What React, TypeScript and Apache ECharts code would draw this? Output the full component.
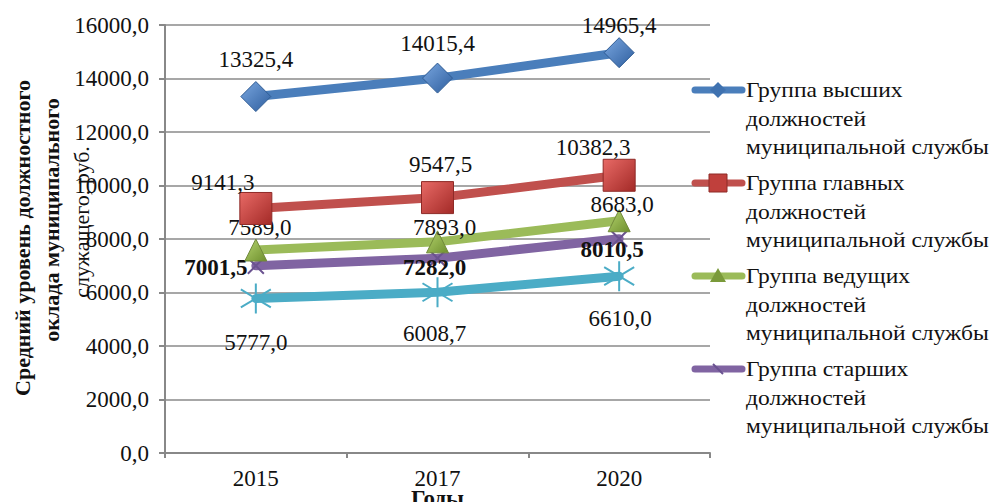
import React, { useEffect, useRef } from "react";
import * as echarts from "echarts";

const years = ["2015", "2017", "2020"];
const highest = [13325.4, 14015.4, 14965.4];
const chief = [9141.3, 9547.5, 10382.3];
const leading = [7589.0, 7893.0, 8683.0];
const senior = [7001.5, 7282.0, 8010.5];
const junior = [5777.0, 6008.7, 6610.0];

const seriesNames = [
  "Группа высших\nдолжностей\nмуниципальной службы",
  "Группа главных\nдолжностей\nмуниципальной службы",
  "Группа ведущих\nдолжностей\nмуниципальной службы",
  "Группа старших\nдолжностей\nмуниципальной службы",
  "Группа младших\nдолжностей\nмуниципальной службы",
];
const yAxisTitle = ["Средний уровень должностного", "оклада муниципального", "служащего, руб."];
const xAxisTitle = "Годы";

const colors = ["#4A7EBB", "#C0504D", "#9BBB59", "#8064A2", "#4BACC6"];
const FONT = "'Times New Roman', 'Liberation Serif', 'DejaVu Serif', serif";

const fmt = (v: number) => v.toFixed(1).replace(".", ",");

// label offsets (style only)
const labelOffsets = [
  [[0, -37], [0, -35], [0, -27]],
  [[-33, -26], [3, -33], [-26, -28]],
  [[4, -22], [7, -14], [3, -16]],
  [[-40, 2], [-3, 9], [-7, 11]],
  [[0, 44], [-3, 41], [1, 42]],
];

const asterisk = "path://M10,0L10,20M1,4L19,16M19,4L1,16";
const xMark = "path://M0,0L20,20M20,0L0,20";

export default function App() {
  const ref = useRef<HTMLDivElement>(null);
  useEffect(() => {
    if (!ref.current) return;
    const chart = echarts.init(ref.current, undefined, { renderer: "svg" });
    const values = [highest, chief, leading, senior, junior];
    const grad = (c1: string, c2: string) =>
      new echarts.graphic.LinearGradient(0, 0, 1, 1, [
        { offset: 0, color: c1 },
        { offset: 1, color: c2 },
      ]);
    const symbolCfg = [
      { symbol: "diamond", symbolSize: [30, 30], itemStyle: { color: grad("#7AA7E0", "#2E5E9E"), borderColor: "#2F5C94", borderWidth: 1 } },
      { symbol: "rect", symbolSize: 32, itemStyle: { color: grad("#E86A66", "#A32A27"), borderColor: "#8E2A27", borderWidth: 1 } },
      { symbol: "triangle", symbolSize: [22, 22], itemStyle: { color: grad("#B5D46E", "#6E8F2E"), borderColor: "#71893A", borderWidth: 1 } },
      { symbol: xMark, symbolSize: 16, itemStyle: { color: "none", borderColor: "#6A5290", borderWidth: 2 } },
      { symbol: asterisk, symbolSize: 30, itemStyle: { color: "none", borderColor: "#4BACC6", borderWidth: 2 } },
    ];
    const series = values.map((vals, i) => ({
      name: seriesNames[i],
      type: "line",
      data: vals.map((v, j) => ({
        value: v,
        label: {
          offset: labelOffsets[i][j],
        },
      })),
      ...symbolCfg[i],
      showSymbol: true,
      z: 10 - i,
      lineStyle: { color: colors[i], width: 9, cap: "round" },
      label: {
        show: true,
        position: "inside",
        align: "center",
        verticalAlign: "middle",
        formatter: (p: any) => fmt(p.value),
        fontFamily: FONT,
        fontSize: 23,
        fontWeight: i === 3 ? "bold" : "normal",
        color: "#111",
      },
    }));

    // legend drawn as graphic
    const legendGraphics: any[] = [];
    const legendTop = 90;
    const legendStep = 93;
    for (let i = 0; i < 4; i++) {
      const y = legendTop + i * legendStep;
      legendGraphics.push({
        type: "line",
        shape: { x1: 695, y1: y, x2: 742, y2: y },
        style: { stroke: colors[i], lineWidth: 7, lineCap: "round" },
        z: 100,
      });
      const cx = 718;
      let mk: any;
      if (i === 0) mk = { type: "polygon", shape: { points: [[cx, y - 8], [cx + 8, y], [cx, y + 8], [cx - 8, y]] }, style: { fill: "#3F72B0" } };
      else if (i === 1) mk = { type: "rect", shape: { x: cx - 9, y: y - 9, width: 18, height: 18 }, style: { fill: "#C0403C", stroke: "#8E2A27" } };
      else if (i === 2) mk = { type: "polygon", shape: { points: [[cx, y - 8], [cx + 8, y + 6], [cx - 8, y + 6]] }, style: { fill: "#7A9A3A" } };
      else mk = { type: "polyline", shape: { points: [[cx - 5, y - 5], [cx + 5, y + 5]] }, style: { stroke: "#6A5290", lineWidth: 2 } };
      legendGraphics.push({ ...mk, z: 101 });
      legendGraphics.push({
        type: "text",
        x: 746,
        y: y - 14,
        scaleX: 1.12,
        style: {
          text: seriesNames[i],
          fontFamily: FONT,
          fontSize: 21,
          fill: "#111",
          lineHeight: 28.5,
          verticalAlign: "top",
        },
        z: 100,
      });
    }

    chart.setOption({
      animation: false,
      grid: { left: 165, right: 285, top: 25, bottom: 49, outerBoundsMode: "none", containLabel: false },
      xAxis: {
        type: "category",
        data: years,
        boundaryGap: true,
        axisLine: { lineStyle: { color: "#888", width: 2 } },
        axisTick: { show: true, length: 5, lineStyle: { color: "#888", width: 2 } },
        axisLabel: { fontFamily: FONT, fontSize: 23, color: "#111", margin: 14 },
        name: xAxisTitle,
        nameLocation: "middle",
        nameGap: 34,
        nameMoveOverlap: false,
        nameTextStyle: { fontFamily: FONT, fontSize: 23, fontWeight: "bold", color: "#111" },
      },
      yAxis: {
        type: "value",
        min: 0,
        max: 16000,
        interval: 2000,
        axisLine: { show: true, lineStyle: { color: "#888", width: 2 } },
        axisTick: { show: true, length: 6, lineStyle: { color: "#888", width: 2 } },
        splitLine: { lineStyle: { color: "#8a8a8a", width: 1.5 } },
        axisLabel: { fontFamily: FONT, fontSize: 23, color: "#111", margin: 16, formatter: (v: number) => fmt(v) },
      },
      graphic: [
        {
          type: "text",
          x: 22,
          y: 238,
          rotation: Math.PI / 2,
          style: { text: yAxisTitle[0], fontFamily: FONT, fontSize: 22, fontWeight: "bold", fill: "#111", align: "center", verticalAlign: "middle" },
        },
        {
          type: "text",
          x: 51,
          y: 220,
          rotation: Math.PI / 2,
          style: { text: yAxisTitle[1], fontFamily: FONT, fontSize: 22, fontWeight: "bold", fill: "#111", align: "center", verticalAlign: "middle" },
        },
        {
          type: "text",
          x: 81,
          y: 222,
          rotation: Math.PI / 2,
          style: { text: yAxisTitle[2], fontFamily: FONT, fontSize: 22, fill: "#111", align: "center", verticalAlign: "middle" },
          z: 100,
        },
        ...legendGraphics,
      ],
      series,
    });
    return () => chart.dispose();
  }, []);
  return <div ref={ref} style={{ width: 995, height: 502, position: "absolute", left: 0, top: 0, background: "#fff" }} />;
}
